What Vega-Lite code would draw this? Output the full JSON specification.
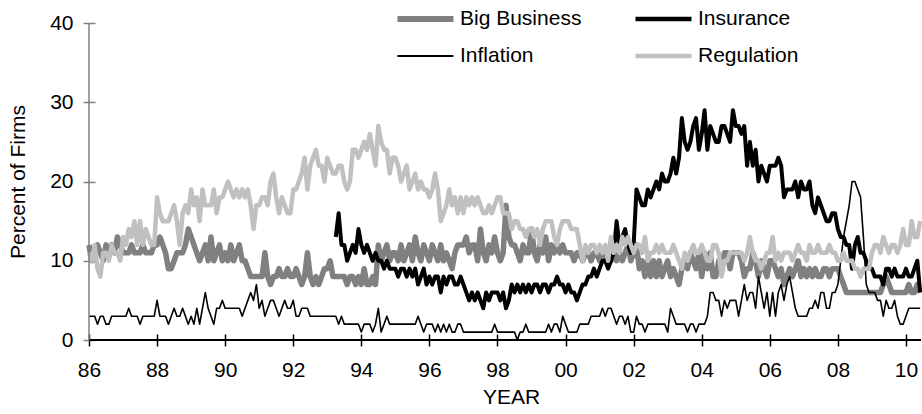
{
"$schema":"https://vega.github.io/schema/vega-lite/v6.json",
"width":832,"height":317,
"autosize":{"type":"none"},
"padding":{"left":89,"top":23,"right":1,"bottom":74},
"background":"white",
"config":{"view":{"stroke":null},"font":"Liberation Sans","axis":{"grid":false,"labelFont":"Liberation Sans","titleFont":"Liberation Sans"},"legend":{"labelFont":"Liberation Sans"}},
"datasets":{
"bb":[{"m":0,"v":12},{"m":1,"v":10},{"m":2,"v":11},{"m":3,"v":12},{"m":4,"v":11},{"m":5,"v":10},{"m":6,"v":12},{"m":7,"v":11},{"m":8,"v":12},{"m":9,"v":11},{"m":10,"v":13},{"m":11,"v":12},
{"m":12,"v":11},{"m":13,"v":11},{"m":14,"v":11},{"m":15,"v":12},{"m":16,"v":11},{"m":17,"v":11},{"m":18,"v":11},{"m":19,"v":12},{"m":20,"v":11},{"m":21,"v":11},{"m":22,"v":11},{"m":23,"v":12},
{"m":24,"v":12},{"m":25,"v":13},{"m":26,"v":12},{"m":27,"v":11},{"m":28,"v":9},{"m":29,"v":9},{"m":30,"v":10},{"m":31,"v":11},{"m":32,"v":11},{"m":33,"v":11},{"m":34,"v":12},{"m":35,"v":14},
{"m":36,"v":13},{"m":37,"v":12},{"m":38,"v":11},{"m":39,"v":10},{"m":40,"v":11},{"m":41,"v":12},{"m":42,"v":10},{"m":43,"v":13},{"m":44,"v":10},{"m":45,"v":11},{"m":46,"v":12},{"m":47,"v":10},
{"m":48,"v":11},{"m":49,"v":10},{"m":50,"v":12},{"m":51,"v":10},{"m":52,"v":11},{"m":53,"v":12},{"m":54,"v":10},{"m":55,"v":10},{"m":56,"v":9},{"m":57,"v":8},{"m":58,"v":8},{"m":59,"v":8},
{"m":60,"v":8},{"m":61,"v":8},{"m":62,"v":11},{"m":63,"v":8},{"m":64,"v":7},{"m":65,"v":8},{"m":66,"v":8},{"m":67,"v":9},{"m":68,"v":8},{"m":69,"v":8},{"m":70,"v":9},{"m":71,"v":8},
{"m":72,"v":8},{"m":73,"v":9},{"m":74,"v":8},{"m":75,"v":7},{"m":76,"v":8},{"m":77,"v":11},{"m":78,"v":8},{"m":79,"v":7},{"m":80,"v":8},{"m":81,"v":7},{"m":82,"v":8},{"m":83,"v":9},
{"m":84,"v":9},{"m":85,"v":10},{"m":86,"v":8},{"m":87,"v":8},{"m":88,"v":8},{"m":89,"v":8},{"m":90,"v":8},{"m":91,"v":7},{"m":92,"v":8},{"m":93,"v":8},{"m":94,"v":7},{"m":95,"v":8},
{"m":96,"v":7},{"m":97,"v":9},{"m":98,"v":7},{"m":99,"v":7},{"m":100,"v":8},{"m":101,"v":7},{"m":102,"v":12},{"m":103,"v":10},{"m":104,"v":11},{"m":105,"v":12},{"m":106,"v":10},{"m":107,"v":11},
{"m":108,"v":11},{"m":109,"v":10},{"m":110,"v":12},{"m":111,"v":10},{"m":112,"v":11},{"m":113,"v":12},{"m":114,"v":10},{"m":115,"v":13},{"m":116,"v":11},{"m":117,"v":10},{"m":118,"v":12},{"m":119,"v":11},
{"m":120,"v":10},{"m":121,"v":12},{"m":122,"v":11},{"m":123,"v":10},{"m":124,"v":12},{"m":125,"v":10},{"m":126,"v":11},{"m":127,"v":10},{"m":128,"v":9},{"m":129,"v":11},{"m":130,"v":12},{"m":131,"v":12},
{"m":132,"v":12},{"m":133,"v":13},{"m":134,"v":11},{"m":135,"v":12},{"m":136,"v":12},{"m":137,"v":10},{"m":138,"v":14},{"m":139,"v":11},{"m":140,"v":10},{"m":141,"v":12},{"m":142,"v":11},{"m":143,"v":13},
{"m":144,"v":11},{"m":145,"v":10},{"m":146,"v":11},{"m":147,"v":17},{"m":148,"v":13},{"m":149,"v":12},{"m":150,"v":12},{"m":151,"v":11},{"m":152,"v":10},{"m":153,"v":12},{"m":154,"v":11},{"m":155,"v":11},
{"m":156,"v":14},{"m":157,"v":11},{"m":158,"v":10},{"m":159,"v":12},{"m":160,"v":11},{"m":161,"v":13},{"m":162,"v":10},{"m":163,"v":12},{"m":164,"v":11},{"m":165,"v":12},{"m":166,"v":11},{"m":167,"v":12},
{"m":168,"v":11},{"m":169,"v":11},{"m":170,"v":11},{"m":171,"v":10},{"m":172,"v":11},{"m":173,"v":11},{"m":174,"v":10},{"m":175,"v":11},{"m":176,"v":11},{"m":177,"v":10},{"m":178,"v":11},{"m":179,"v":11},
{"m":180,"v":10},{"m":181,"v":11},{"m":182,"v":10},{"m":183,"v":11},{"m":184,"v":10},{"m":185,"v":11},{"m":186,"v":10},{"m":187,"v":11},{"m":188,"v":10},{"m":189,"v":11},{"m":190,"v":12},{"m":191,"v":10},
{"m":192,"v":11},{"m":193,"v":12},{"m":194,"v":9},{"m":195,"v":10},{"m":196,"v":8},{"m":197,"v":10},{"m":198,"v":8},{"m":199,"v":10},{"m":200,"v":8},{"m":201,"v":10},{"m":202,"v":8},{"m":203,"v":9},
{"m":204,"v":10},{"m":205,"v":8},{"m":206,"v":9},{"m":207,"v":8},{"m":208,"v":7},{"m":209,"v":9},{"m":210,"v":10},{"m":211,"v":9},{"m":212,"v":11},{"m":213,"v":10},{"m":214,"v":9},{"m":215,"v":11},
{"m":216,"v":8},{"m":217,"v":11},{"m":218,"v":9},{"m":219,"v":11},{"m":220,"v":8},{"m":221,"v":8},{"m":222,"v":10},{"m":223,"v":9},{"m":224,"v":11},{"m":225,"v":11},{"m":226,"v":9},{"m":227,"v":11},
{"m":228,"v":11},{"m":229,"v":11},{"m":230,"v":10},{"m":231,"v":8},{"m":232,"v":9},{"m":233,"v":9},{"m":234,"v":11},{"m":235,"v":10},{"m":236,"v":8},{"m":237,"v":10},{"m":238,"v":9},{"m":239,"v":8},
{"m":240,"v":10},{"m":241,"v":10},{"m":242,"v":9},{"m":243,"v":8},{"m":244,"v":9},{"m":245,"v":7},{"m":246,"v":8},{"m":247,"v":9},{"m":248,"v":8},{"m":249,"v":9},{"m":250,"v":10},{"m":251,"v":8},
{"m":252,"v":9},{"m":253,"v":8},{"m":254,"v":9},{"m":255,"v":8},{"m":256,"v":9},{"m":257,"v":8},{"m":258,"v":8},{"m":259,"v":9},{"m":260,"v":9},{"m":261,"v":8},{"m":262,"v":9},{"m":263,"v":9},
{"m":264,"v":9},{"m":265,"v":8},{"m":266,"v":7},{"m":267,"v":6},{"m":268,"v":6},{"m":269,"v":6},{"m":270,"v":6},{"m":271,"v":6},{"m":272,"v":6},{"m":273,"v":6},{"m":274,"v":6},{"m":275,"v":6},
{"m":276,"v":6},{"m":277,"v":6},{"m":278,"v":6},{"m":279,"v":6},{"m":280,"v":7},{"m":281,"v":8},{"m":282,"v":7},{"m":283,"v":6},{"m":284,"v":6},{"m":285,"v":6},{"m":286,"v":6},{"m":287,"v":6},
{"m":288,"v":6},{"m":289,"v":7},{"m":290,"v":6},{"m":291,"v":6},{"m":292,"v":7},{"m":293,"v":6}],
"ins":[{"m":87,"v":13},{"m":88,"v":16},{"m":89,"v":12},{"m":90,"v":12},{"m":91,"v":10},{"m":92,"v":11},{"m":93,"v":12},{"m":94,"v":11},{"m":95,"v":14},
{"m":96,"v":12},{"m":97,"v":11},{"m":98,"v":12},{"m":99,"v":11},{"m":100,"v":10},{"m":101,"v":11},{"m":102,"v":10},{"m":103,"v":10},{"m":104,"v":9},{"m":105,"v":10},{"m":106,"v":9},{"m":107,"v":9},
{"m":108,"v":9},{"m":109,"v":8},{"m":110,"v":9},{"m":111,"v":9},{"m":112,"v":8},{"m":113,"v":9},{"m":114,"v":8},{"m":115,"v":9},{"m":116,"v":7},{"m":117,"v":8},{"m":118,"v":9},{"m":119,"v":7},
{"m":120,"v":8},{"m":121,"v":7},{"m":122,"v":8},{"m":123,"v":8},{"m":124,"v":6},{"m":125,"v":8},{"m":126,"v":7},{"m":127,"v":8},{"m":128,"v":8},{"m":129,"v":7},{"m":130,"v":7},{"m":131,"v":8},
{"m":132,"v":7},{"m":133,"v":6},{"m":134,"v":5},{"m":135,"v":6},{"m":136,"v":5},{"m":137,"v":6},{"m":138,"v":5},{"m":139,"v":4},{"m":140,"v":6},{"m":141,"v":5},{"m":142,"v":6},{"m":143,"v":6},
{"m":144,"v":6},{"m":145,"v":5},{"m":146,"v":6},{"m":147,"v":4},{"m":148,"v":5},{"m":149,"v":7},{"m":150,"v":6},{"m":151,"v":7},{"m":152,"v":6},{"m":153,"v":7},{"m":154,"v":6},{"m":155,"v":7},
{"m":156,"v":6},{"m":157,"v":7},{"m":158,"v":7},{"m":159,"v":6},{"m":160,"v":7},{"m":161,"v":7},{"m":162,"v":6},{"m":163,"v":7},{"m":164,"v":7},{"m":165,"v":8},{"m":166,"v":7},{"m":167,"v":7},
{"m":168,"v":6},{"m":169,"v":7},{"m":170,"v":6},{"m":171,"v":6},{"m":172,"v":5},{"m":173,"v":6},{"m":174,"v":7},{"m":175,"v":7},{"m":176,"v":8},{"m":177,"v":8},{"m":178,"v":9},{"m":179,"v":8},
{"m":180,"v":9},{"m":181,"v":10},{"m":182,"v":10},{"m":183,"v":9},{"m":184,"v":10},{"m":185,"v":11},{"m":186,"v":15},{"m":187,"v":12},{"m":188,"v":13},{"m":189,"v":14},{"m":190,"v":12},{"m":191,"v":11},
{"m":192,"v":12},{"m":193,"v":19},{"m":194,"v":18},{"m":195,"v":17},{"m":196,"v":17},{"m":197,"v":19},{"m":198,"v":18},{"m":199,"v":19},{"m":200,"v":20},{"m":201,"v":19},{"m":202,"v":21},{"m":203,"v":20},
{"m":204,"v":20},{"m":205,"v":21},{"m":206,"v":23},{"m":207,"v":21},{"m":208,"v":23},{"m":209,"v":28},{"m":210,"v":25},{"m":211,"v":24},{"m":212,"v":25},{"m":213,"v":27},{"m":214,"v":28},{"m":215,"v":24},
{"m":216,"v":26},{"m":217,"v":29},{"m":218,"v":24},{"m":219,"v":27},{"m":220,"v":26},{"m":221,"v":25},{"m":222,"v":25},{"m":223,"v":27},{"m":224,"v":27},{"m":225,"v":26},{"m":226,"v":25},{"m":227,"v":29},
{"m":228,"v":27},{"m":229,"v":27},{"m":230,"v":26},{"m":231,"v":27},{"m":232,"v":22},{"m":233,"v":25},{"m":234,"v":22},{"m":235,"v":24},{"m":236,"v":20},{"m":237,"v":22},{"m":238,"v":21},{"m":239,"v":20},
{"m":240,"v":22},{"m":241,"v":22},{"m":242,"v":22},{"m":243,"v":23},{"m":244,"v":22},{"m":245,"v":18},{"m":246,"v":19},{"m":247,"v":19},{"m":248,"v":19},{"m":249,"v":20},{"m":250,"v":18},{"m":251,"v":20},
{"m":252,"v":19},{"m":253,"v":19},{"m":254,"v":20},{"m":255,"v":17},{"m":256,"v":16},{"m":257,"v":18},{"m":258,"v":17},{"m":259,"v":16},{"m":260,"v":15},{"m":261,"v":15},{"m":262,"v":16},{"m":263,"v":16},
{"m":264,"v":14},{"m":265,"v":13},{"m":266,"v":13},{"m":267,"v":12},{"m":268,"v":12},{"m":269,"v":9},{"m":270,"v":12},{"m":271,"v":13},{"m":272,"v":11},{"m":273,"v":11},{"m":274,"v":10},{"m":275,"v":9},
{"m":276,"v":9},{"m":277,"v":8},{"m":278,"v":8},{"m":279,"v":8},{"m":280,"v":7},{"m":281,"v":9},{"m":282,"v":9},{"m":283,"v":8},{"m":284,"v":9},{"m":285,"v":8},{"m":286,"v":8},{"m":287,"v":8},
{"m":288,"v":9},{"m":289,"v":8},{"m":290,"v":8},{"m":291,"v":9},{"m":292,"v":10},{"m":293,"v":6}],
"inf":[{"m":0,"v":3},{"m":1,"v":3},{"m":2,"v":3},{"m":3,"v":2},{"m":4,"v":3},{"m":5,"v":3},{"m":6,"v":2},{"m":7,"v":2},{"m":8,"v":3},{"m":9,"v":3},{"m":10,"v":3},{"m":11,"v":3},
{"m":12,"v":3},{"m":13,"v":3},{"m":14,"v":4},{"m":15,"v":3},{"m":16,"v":3},{"m":17,"v":3},{"m":18,"v":2},{"m":19,"v":3},{"m":20,"v":3},{"m":21,"v":3},{"m":22,"v":3},{"m":23,"v":3},
{"m":24,"v":5},{"m":25,"v":3},{"m":26,"v":3},{"m":27,"v":3},{"m":28,"v":2},{"m":29,"v":3},{"m":30,"v":4},{"m":31,"v":3},{"m":32,"v":3},{"m":33,"v":4},{"m":34,"v":3},{"m":35,"v":2},
{"m":36,"v":3},{"m":37,"v":2},{"m":38,"v":4},{"m":39,"v":2},{"m":40,"v":4},{"m":41,"v":6},{"m":42,"v":4},{"m":43,"v":3},{"m":44,"v":2},{"m":45,"v":4},{"m":46,"v":4},{"m":47,"v":5},
{"m":48,"v":4},{"m":49,"v":4},{"m":50,"v":4},{"m":51,"v":4},{"m":52,"v":4},{"m":53,"v":4},{"m":54,"v":3},{"m":55,"v":4},{"m":56,"v":5},{"m":57,"v":6},{"m":58,"v":5},{"m":59,"v":7},
{"m":60,"v":4},{"m":61,"v":5},{"m":62,"v":3},{"m":63,"v":4},{"m":64,"v":5},{"m":65,"v":5},{"m":66,"v":4},{"m":67,"v":3},{"m":68,"v":4},{"m":69,"v":5},{"m":70,"v":4},{"m":71,"v":4},
{"m":72,"v":5},{"m":73,"v":3},{"m":74,"v":3},{"m":75,"v":4},{"m":76,"v":4},{"m":77,"v":4},{"m":78,"v":3},{"m":79,"v":3},{"m":80,"v":3},{"m":81,"v":3},{"m":82,"v":3},{"m":83,"v":3},
{"m":84,"v":3},{"m":85,"v":3},{"m":86,"v":3},{"m":87,"v":3},{"m":88,"v":2},{"m":89,"v":3},{"m":90,"v":2},{"m":91,"v":2},{"m":92,"v":2},{"m":93,"v":2},{"m":94,"v":2},{"m":95,"v":2},
{"m":96,"v":1},{"m":97,"v":2},{"m":98,"v":2},{"m":99,"v":2},{"m":100,"v":1},{"m":101,"v":2},{"m":102,"v":4},{"m":103,"v":1},{"m":104,"v":2},{"m":105,"v":3},{"m":106,"v":2},{"m":107,"v":2},
{"m":108,"v":2},{"m":109,"v":2},{"m":110,"v":2},{"m":111,"v":2},{"m":112,"v":2},{"m":113,"v":2},{"m":114,"v":2},{"m":115,"v":2},{"m":116,"v":3},{"m":117,"v":2},{"m":118,"v":1},{"m":119,"v":2},
{"m":120,"v":2},{"m":121,"v":2},{"m":122,"v":1},{"m":123,"v":2},{"m":124,"v":1},{"m":125,"v":2},{"m":126,"v":1},{"m":127,"v":2},{"m":128,"v":1},{"m":129,"v":1},{"m":130,"v":2},{"m":131,"v":2},
{"m":132,"v":1},{"m":133,"v":1},{"m":134,"v":1},{"m":135,"v":1},{"m":136,"v":1},{"m":137,"v":1},{"m":138,"v":1},{"m":139,"v":1},{"m":140,"v":1},{"m":141,"v":1},{"m":142,"v":1},{"m":143,"v":2},
{"m":144,"v":1},{"m":145,"v":1},{"m":146,"v":1},{"m":147,"v":1},{"m":148,"v":1},{"m":149,"v":1},{"m":150,"v":1},{"m":151,"v":0},{"m":152,"v":1},{"m":153,"v":1},{"m":154,"v":2},{"m":155,"v":1},
{"m":156,"v":1},{"m":157,"v":1},{"m":158,"v":1},{"m":159,"v":1},{"m":160,"v":1},{"m":161,"v":1},{"m":162,"v":2},{"m":163,"v":1},{"m":164,"v":2},{"m":165,"v":2},{"m":166,"v":1},{"m":167,"v":3},
{"m":168,"v":2},{"m":169,"v":1},{"m":170,"v":1},{"m":171,"v":1},{"m":172,"v":1},{"m":173,"v":2},{"m":174,"v":2},{"m":175,"v":2},{"m":176,"v":2},{"m":177,"v":3},{"m":178,"v":3},{"m":179,"v":3},
{"m":180,"v":3},{"m":181,"v":4},{"m":182,"v":3},{"m":183,"v":4},{"m":184,"v":4},{"m":185,"v":3},{"m":186,"v":2},{"m":187,"v":3},{"m":188,"v":3},{"m":189,"v":2},{"m":190,"v":3},{"m":191,"v":1},
{"m":192,"v":1},{"m":193,"v":3},{"m":194,"v":2},{"m":195,"v":2},{"m":196,"v":1},{"m":197,"v":2},{"m":198,"v":2},{"m":199,"v":2},{"m":200,"v":2},{"m":201,"v":2},{"m":202,"v":2},{"m":203,"v":2},
{"m":204,"v":1},{"m":205,"v":4},{"m":206,"v":3},{"m":207,"v":2},{"m":208,"v":2},{"m":209,"v":2},{"m":210,"v":2},{"m":211,"v":1},{"m":212,"v":2},{"m":213,"v":2},{"m":214,"v":1},{"m":215,"v":2},
{"m":216,"v":2},{"m":217,"v":2},{"m":218,"v":3},{"m":219,"v":6},{"m":220,"v":6},{"m":221,"v":5},{"m":222,"v":5},{"m":223,"v":3},{"m":224,"v":5},{"m":225,"v":4},{"m":226,"v":5},{"m":227,"v":5},
{"m":228,"v":5},{"m":229,"v":3},{"m":230,"v":5},{"m":231,"v":7},{"m":232,"v":5},{"m":233,"v":6},{"m":234,"v":6},{"m":235,"v":4},{"m":236,"v":8},{"m":237,"v":6},{"m":238,"v":4},{"m":239,"v":6},
{"m":240,"v":3},{"m":241,"v":6},{"m":242,"v":3},{"m":243,"v":6},{"m":244,"v":7},{"m":245,"v":5},{"m":246,"v":7},{"m":247,"v":8},{"m":248,"v":6},{"m":249,"v":4},{"m":250,"v":3},{"m":251,"v":3},
{"m":252,"v":3},{"m":253,"v":3},{"m":254,"v":4},{"m":255,"v":4},{"m":256,"v":5},{"m":257,"v":4},{"m":258,"v":6},{"m":259,"v":6},{"m":260,"v":4},{"m":261,"v":4},{"m":262,"v":6},{"m":263,"v":6},
{"m":264,"v":7},{"m":265,"v":10},{"m":266,"v":13},{"m":267,"v":15},{"m":268,"v":17},{"m":269,"v":20},{"m":270,"v":20},{"m":271,"v":19},{"m":272,"v":18},{"m":273,"v":13},{"m":274,"v":7},{"m":275,"v":6},
{"m":276,"v":6},{"m":277,"v":6},{"m":278,"v":5},{"m":279,"v":5},{"m":280,"v":3},{"m":281,"v":5},{"m":282,"v":4},{"m":283,"v":4},{"m":284,"v":5},{"m":285,"v":3},{"m":286,"v":2},{"m":287,"v":2},
{"m":288,"v":3},{"m":289,"v":4},{"m":290,"v":4},{"m":291,"v":4},{"m":292,"v":4},{"m":293,"v":4}],
"reg":[{"m":0,"v":11},{"m":1,"v":10},{"m":2,"v":12},{"m":3,"v":9},{"m":4,"v":8},{"m":5,"v":11},{"m":6,"v":11},{"m":7,"v":10},{"m":8,"v":12},{"m":9,"v":11},{"m":10,"v":11},{"m":11,"v":10},
{"m":12,"v":13},{"m":13,"v":12},{"m":14,"v":14},{"m":15,"v":13},{"m":16,"v":15},{"m":17,"v":12},{"m":18,"v":15},{"m":19,"v":12},{"m":20,"v":14},{"m":21,"v":13},{"m":22,"v":12},{"m":23,"v":12},
{"m":24,"v":18},{"m":25,"v":16},{"m":26,"v":15},{"m":27,"v":15},{"m":28,"v":15},{"m":29,"v":16},{"m":30,"v":17},{"m":31,"v":15},{"m":32,"v":12},{"m":33,"v":16},{"m":34,"v":17},{"m":35,"v":16},
{"m":36,"v":19},{"m":37,"v":17},{"m":38,"v":18},{"m":39,"v":15},{"m":40,"v":19},{"m":41,"v":17},{"m":42,"v":17},{"m":43,"v":17},{"m":44,"v":19},{"m":45,"v":16},{"m":46,"v":18},{"m":47,"v":18},
{"m":48,"v":19},{"m":49,"v":20},{"m":50,"v":19},{"m":51,"v":18},{"m":52,"v":19},{"m":53,"v":18},{"m":54,"v":19},{"m":55,"v":18},{"m":56,"v":19},{"m":57,"v":17},{"m":58,"v":14},{"m":59,"v":17},
{"m":60,"v":17},{"m":61,"v":18},{"m":62,"v":18},{"m":63,"v":17},{"m":64,"v":20},{"m":65,"v":21},{"m":66,"v":18},{"m":67,"v":16},{"m":68,"v":18},{"m":69,"v":17},{"m":70,"v":16},{"m":71,"v":16},
{"m":72,"v":19},{"m":73,"v":19},{"m":74,"v":20},{"m":75,"v":21},{"m":76,"v":23},{"m":77,"v":19},{"m":78,"v":22},{"m":79,"v":23},{"m":80,"v":24},{"m":81,"v":22},{"m":82,"v":22},{"m":83,"v":20},
{"m":84,"v":23},{"m":85,"v":22},{"m":86,"v":21},{"m":87,"v":21},{"m":88,"v":22},{"m":89,"v":22},{"m":90,"v":20},{"m":91,"v":19},{"m":92,"v":20},{"m":93,"v":24},{"m":94,"v":24},{"m":95,"v":23},
{"m":96,"v":24},{"m":97,"v":25},{"m":98,"v":24},{"m":99,"v":26},{"m":100,"v":24},{"m":101,"v":22},{"m":102,"v":27},{"m":103,"v":25},{"m":104,"v":24},{"m":105,"v":24},{"m":106,"v":21},{"m":107,"v":23},
{"m":108,"v":23},{"m":109,"v":22},{"m":110,"v":20},{"m":111,"v":21},{"m":112,"v":22},{"m":113,"v":19},{"m":114,"v":20},{"m":115,"v":21},{"m":116,"v":19},{"m":117,"v":20},{"m":118,"v":19},{"m":119,"v":19},
{"m":120,"v":18},{"m":121,"v":19},{"m":122,"v":21},{"m":123,"v":19},{"m":124,"v":15},{"m":125,"v":16},{"m":126,"v":17},{"m":127,"v":19},{"m":128,"v":17},{"m":129,"v":18},{"m":130,"v":16},{"m":131,"v":18},
{"m":132,"v":16},{"m":133,"v":18},{"m":134,"v":17},{"m":135,"v":18},{"m":136,"v":17},{"m":137,"v":18},{"m":138,"v":17},{"m":139,"v":16},{"m":140,"v":16},{"m":141,"v":17},{"m":142,"v":16},{"m":143,"v":17},
{"m":144,"v":18},{"m":145,"v":18},{"m":146,"v":16},{"m":147,"v":16},{"m":148,"v":16},{"m":149,"v":14},{"m":150,"v":15},{"m":151,"v":15},{"m":152,"v":14},{"m":153,"v":14},{"m":154,"v":13},{"m":155,"v":14},
{"m":156,"v":14},{"m":157,"v":13},{"m":158,"v":14},{"m":159,"v":12},{"m":160,"v":14},{"m":161,"v":15},{"m":162,"v":15},{"m":163,"v":15},{"m":164,"v":13},{"m":165,"v":12},{"m":166,"v":14},{"m":167,"v":15},
{"m":168,"v":15},{"m":169,"v":15},{"m":170,"v":14},{"m":171,"v":14},{"m":172,"v":14},{"m":173,"v":12},{"m":174,"v":10},{"m":175,"v":12},{"m":176,"v":11},{"m":177,"v":12},{"m":178,"v":12},{"m":179,"v":11},
{"m":180,"v":12},{"m":181,"v":11},{"m":182,"v":12},{"m":183,"v":10},{"m":184,"v":13},{"m":185,"v":11},{"m":186,"v":12},{"m":187,"v":11},{"m":188,"v":13},{"m":189,"v":12},{"m":190,"v":13},{"m":191,"v":12},
{"m":192,"v":11},{"m":193,"v":12},{"m":194,"v":12},{"m":195,"v":11},{"m":196,"v":13},{"m":197,"v":10},{"m":198,"v":11},{"m":199,"v":11},{"m":200,"v":12},{"m":201,"v":11},{"m":202,"v":12},{"m":203,"v":11},
{"m":204,"v":11},{"m":205,"v":11},{"m":206,"v":12},{"m":207,"v":11},{"m":208,"v":10},{"m":209,"v":9},{"m":210,"v":11},{"m":211,"v":10},{"m":212,"v":11},{"m":213,"v":12},{"m":214,"v":11},{"m":215,"v":11},
{"m":216,"v":12},{"m":217,"v":11},{"m":218,"v":10},{"m":219,"v":10},{"m":220,"v":12},{"m":221,"v":12},{"m":222,"v":11},{"m":223,"v":8},{"m":224,"v":10},{"m":225,"v":10},{"m":226,"v":11},{"m":227,"v":11},
{"m":228,"v":11},{"m":229,"v":11},{"m":230,"v":11},{"m":231,"v":10},{"m":232,"v":11},{"m":233,"v":13},{"m":234,"v":11},{"m":235,"v":10},{"m":236,"v":10},{"m":237,"v":9},{"m":238,"v":10},{"m":239,"v":11},
{"m":240,"v":11},{"m":241,"v":13},{"m":242,"v":10},{"m":243,"v":11},{"m":244,"v":10},{"m":245,"v":11},{"m":246,"v":11},{"m":247,"v":11},{"m":248,"v":10},{"m":249,"v":11},{"m":250,"v":12},{"m":251,"v":11},
{"m":252,"v":11},{"m":253,"v":10},{"m":254,"v":12},{"m":255,"v":11},{"m":256,"v":11},{"m":257,"v":12},{"m":258,"v":11},{"m":259,"v":11},{"m":260,"v":11},{"m":261,"v":12},{"m":262,"v":11},{"m":263,"v":11},
{"m":264,"v":10},{"m":265,"v":10},{"m":266,"v":11},{"m":267,"v":10},{"m":268,"v":10},{"m":269,"v":10},{"m":270,"v":9},{"m":271,"v":9},{"m":272,"v":8},{"m":273,"v":9},{"m":274,"v":9},{"m":275,"v":9},
{"m":276,"v":11},{"m":277,"v":12},{"m":278,"v":12},{"m":279,"v":11},{"m":280,"v":13},{"m":281,"v":12},{"m":282,"v":11},{"m":283,"v":12},{"m":284,"v":12},{"m":285,"v":11},{"m":286,"v":12},{"m":287,"v":14},
{"m":288,"v":12},{"m":289,"v":12},{"m":290,"v":15},{"m":291,"v":13},{"m":292,"v":13},{"m":293,"v":15}]
},
"layer":[
{"data":{"name":"bb"},"mark":{"type":"line","strokeWidth":5.5,"strokeJoin":"round"},
 "encoding":{
  "x":{"field":"m","type":"quantitative","scale":{"domain":[0,293.3],"nice":false,"zero":false},
   "axis":{"values":[0,6,12,18,24,30,36,42,48,54,60,66,72,78,84,90,96,102,108,114,120,126,132,138,144,150,156,162,168,174,180,186,192,198,204,210,216,222,228,234,240,246,252,258,264,270,276,282,288],
    "labelExpr":"datum.value % 24 == 0 ? (((86 + datum.value / 12) % 100) < 10 ? '0' + ((86 + datum.value / 12) % 100) : '' + ((86 + datum.value / 12) % 100)) : ''",
    "title":"YEAR","offset":-6,"tickSize":12,"tickWidth":1.5,"tickColor":"#000","domain":false,
    "labelPadding":13,"labelFontSize":21,"labelColor":"#000","labelOverlap":false,"labelBound":false,"labelFlush":false,
    "titleFontSize":21,"titleFontWeight":"normal","titleColor":"#000","titlePadding":6,"titleX":422}},
  "y":{"field":"v","type":"quantitative","scale":{"domain":[0,40],"nice":false},
   "axis":{"values":[0,10,20,30,40],"title":"Percent of Firms","offset":-6,"tickSize":12,"tickWidth":1.5,"tickColor":"#808080","domain":false,
    "labelPadding":10,"labelFontSize":21,"labelColor":"#000","titleFontSize":21,"titleFontWeight":"normal","titleColor":"#000","titlePadding":21}},
  "color":{"datum":"Big Business","type":"nominal",
   "scale":{"domain":["Big Business","Insurance","Inflation","Regulation"],"range":["#808080","#000000","#000000","#c0c0c0"]},
   "legend":{"title":null,"orient":"none","direction":"horizontal","legendX":306,"legendY":-17,"columns":2,"values":["Big Business","Insurance","Inflation","Regulation"],
    "symbolType":"stroke","symbolSize":3136,"symbolStrokeWidth":4,"clipHeight":26,
    "labelFontSize":21,"labelColor":"#000","labelOffset":4,"columnPadding":51,"rowPadding":11,
    "encode":{"symbols":{"update":{"strokeWidth":{"signal":"(datum.value == 'Big Business' ? 6 : (datum.value == 'Inflation' ? 2 : 4.5))"}}}}}}
 }},
{"data":{"name":"ins"},"mark":{"type":"line","strokeWidth":4,"strokeJoin":"round"},
 "encoding":{"x":{"field":"m","type":"quantitative"},"y":{"field":"v","type":"quantitative"},"color":{"datum":"Insurance","type":"nominal","scale":{"domain":["Big Business","Insurance","Inflation","Regulation"],"range":["#808080","#000000","#000000","#c0c0c0"]}}}},
{"data":{"name":"inf"},"mark":{"type":"line","strokeWidth":1.6,"strokeJoin":"round"},
 "encoding":{"x":{"field":"m","type":"quantitative"},"y":{"field":"v","type":"quantitative"},"color":{"datum":"Inflation","type":"nominal","scale":{"domain":["Big Business","Insurance","Inflation","Regulation"],"range":["#808080","#000000","#000000","#c0c0c0"]}}}},
{"data":{"name":"reg"},"mark":{"type":"line","strokeWidth":4.5,"strokeJoin":"round"},
 "encoding":{"x":{"field":"m","type":"quantitative"},"y":{"field":"v","type":"quantitative"},"color":{"datum":"Regulation","type":"nominal","scale":{"domain":["Big Business","Insurance","Inflation","Regulation"],"range":["#808080","#000000","#000000","#c0c0c0"]}}}},
{"data":{"values":[{}]},"mark":{"type":"rule","color":"#000","strokeWidth":2},"encoding":{"y":{"datum":0}}},
{"data":{"values":[{}]},"mark":{"type":"rule","color":"#808080","strokeWidth":1.5},"encoding":{"x":{"datum":0}}}
]
}
